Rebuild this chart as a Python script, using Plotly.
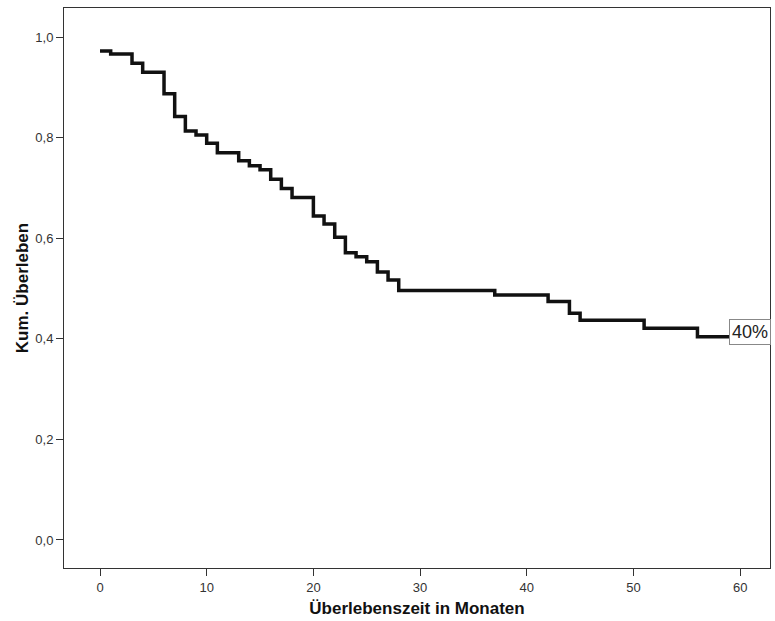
import plotly.graph_objects as go

# Kaplan-Meier estimate: event times (months) and cumulative survival after each step
months = [0, 1, 3, 4, 6, 7, 8, 9, 10, 11, 13, 14, 15, 16, 17, 18, 20, 21, 22, 23,
          24, 25, 26, 27, 28, 37, 42, 44, 45, 51, 56, 60]
survival = [0.972, 0.966, 0.948, 0.930, 0.887, 0.842, 0.813, 0.805, 0.789, 0.770,
            0.754, 0.744, 0.736, 0.717, 0.699, 0.681, 0.644, 0.628, 0.602, 0.571,
            0.563, 0.553, 0.533, 0.517, 0.496, 0.487, 0.474, 0.451, 0.437, 0.421,
            0.404, 0.404]

x_ticks = [0, 10, 20, 30, 40, 50, 60]
y_ticks = [0.0, 0.2, 0.4, 0.6, 0.8, 1.0]
end_label = "40%"

tick_font = dict(family="Liberation Sans, Arial, sans-serif", size=13, color="#333333")
title_font = dict(family="Liberation Sans, Arial, sans-serif", size=17, color="#111111")

fig = go.Figure()
fig.add_trace(go.Scatter(
    x=months, y=survival, mode="lines",
    line=dict(shape="hv", color="#111111", width=3.5),
    showlegend=False, hoverinfo="skip",
))

fig.add_annotation(
    x=60.9, y=0.4135, xref="x", yref="y", text=end_label, showarrow=False,
    font=dict(family="Liberation Sans, Arial, sans-serif", size=18, color="#222222"),
    bgcolor="white", bordercolor="#888888", borderwidth=1, borderpad=2,
)

fig.update_layout(
    width=775, height=621,
    margin=dict(l=64, r=5, t=8, b=53),
    paper_bgcolor="white", plot_bgcolor="white",
    separators=",.",
    xaxis=dict(
        range=[-3.375, 62.8], tickvals=x_ticks, ticks="outside", ticklen=7,
        tickcolor="#333333", showline=True, linecolor="#333333", linewidth=1,
        mirror=True, showgrid=False, zeroline=False, tickfont=tick_font,
        title=dict(text="<b>Überlebenszeit in Monaten</b>", font=title_font, standoff=8),
    ),
    yaxis=dict(
        range=[-0.0557, 1.0577], tickvals=y_ticks, tickformat=".1f", ticks="outside",
        ticklen=7, tickcolor="#333333", showline=True, linecolor="#333333", linewidth=1,
        mirror=True, showgrid=False, zeroline=False, tickfont=tick_font,
        title=dict(text="<b>Kum. Überleben</b>", font=title_font, standoff=2),
    ),
)

fig.write_html("out.html")
